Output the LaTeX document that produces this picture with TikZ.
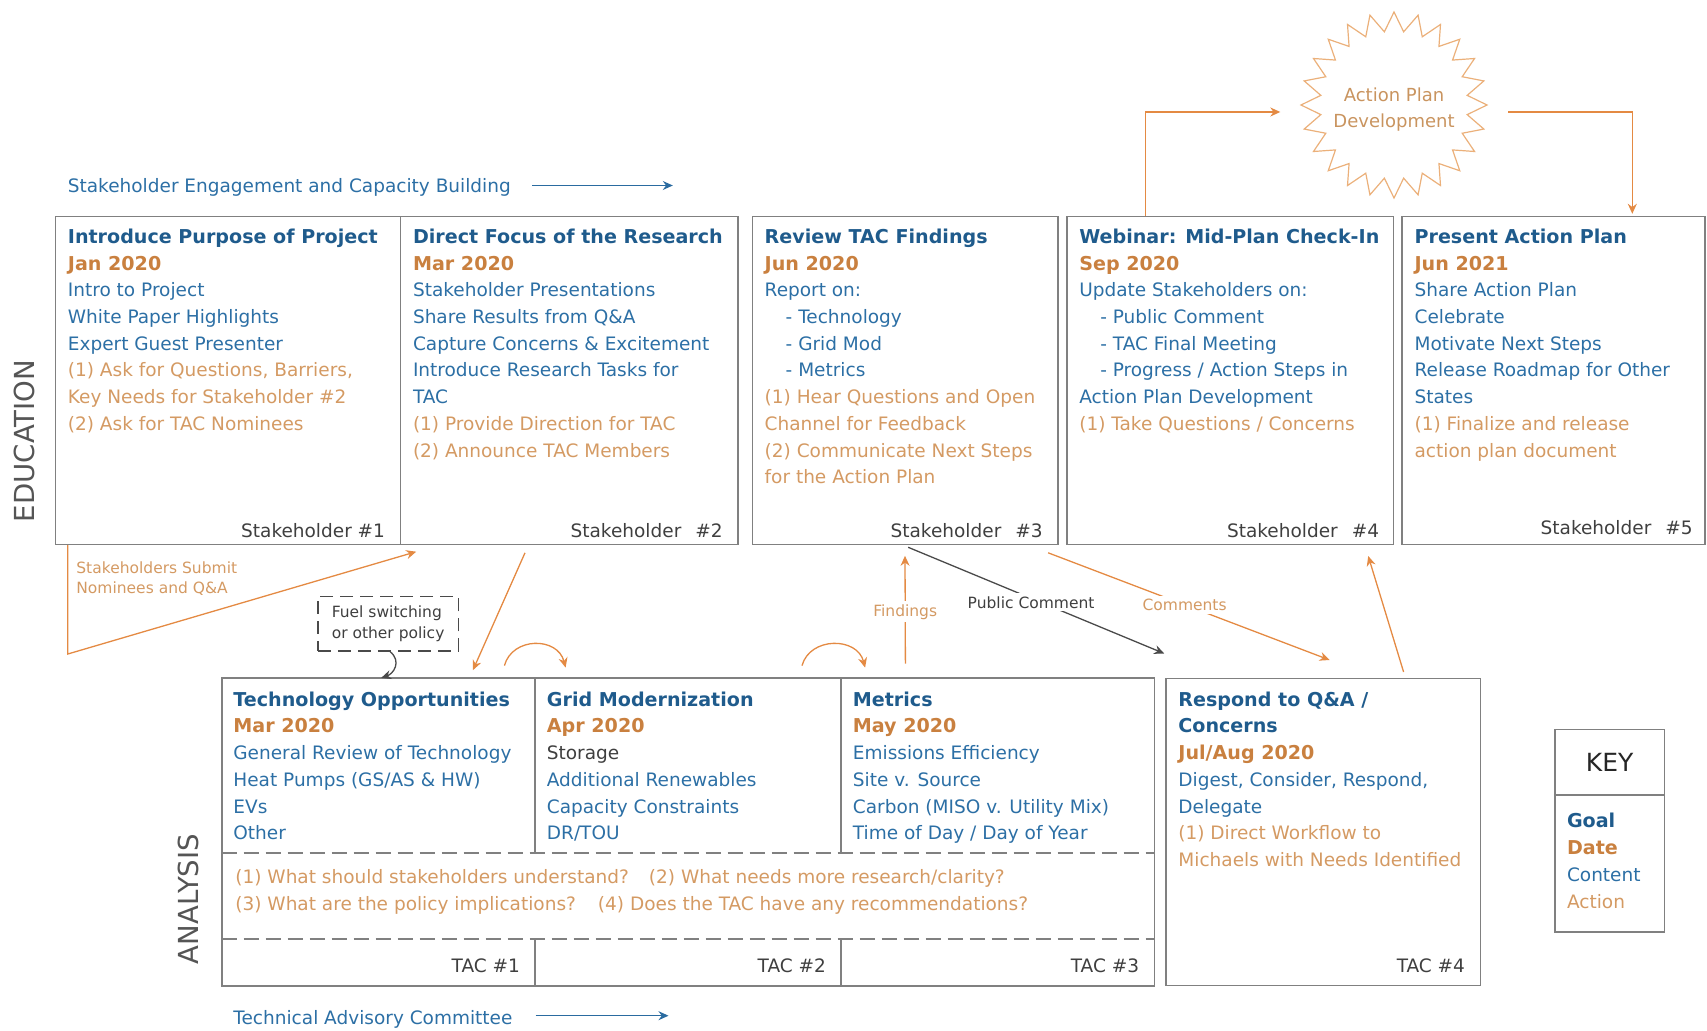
\documentclass[tikz,border=0pt]{standalone}
\usepackage{fontspec}
\setmainfont{DejaVu Sans}
\usetikzlibrary{shapes.geometric,arrows.meta,calc,fit}

\definecolor{goalc}{HTML}{1F5B8C}
\definecolor{contc}{HTML}{2C6FA5}
\definecolor{datec}{HTML}{C9803F}
\definecolor{actc}{HTML}{D49A63}
\definecolor{oarr}{HTML}{E48A43}
\definecolor{graytxt}{HTML}{3F3F3F}
\definecolor{borderc}{HTML}{808080}
\definecolor{labgray}{HTML}{555555}
\definecolor{starc}{HTML}{EBB07A}
\definecolor{startxt}{HTML}{C9945F}
\definecolor{barr}{HTML}{2A6BA0}
\definecolor{darr}{HTML}{4A4A4A}

\newcommand\tgoal[1]{{\color{goalc}\fontsize{9.55}{13.35}\selectfont\bfseries #1}}
\newcommand\tdate[1]{{\color{datec}\fontsize{9.55}{13.35}\selectfont\bfseries #1}}
\newcommand\tact[1]{{\color{actc}#1}}
\newcommand\tdark[1]{{\color{graytxt}#1}}
\newcommand\fstrut{\rule{0pt}{8pt}}
\newcommand\sstrut{\rule{0pt}{7pt}}
\newcommand\ind{\hspace*{10.5pt}}

\begin{document}
\begin{tikzpicture}[x=0.5pt,y=-0.5pt,
  box/.style={draw=borderc, line width=0.8pt, inner sep=0pt},
  ghost/.style={inner sep=0pt},
  boxline/.style={draw=borderc, line width=0.8pt},
  dashline/.style={draw=borderc, line width=0.8pt, dash pattern=on 7.5pt off 3.5pt},
  txt/.style={anchor=north west, inner sep=0pt, align=left, text=contc, font=\fontsize{9.25}{13.35}\selectfont},
  foot/.style={anchor=base east, inner sep=0pt, text=graytxt, font=\fontsize{9.25}{13.35}\selectfont},
  small/.style={font=\fontsize{7.75}{10.3}\selectfont},
  lbl/.style={small, fill=white, inner sep=1.5pt},
  oarrow/.style={draw=oarr, line width=0.65pt, -{Stealth[length=5pt,width=4.5pt]}},
  darrow/.style={draw=darr, line width=0.65pt, -{Stealth[length=5pt,width=4.5pt]}},
  barrow/.style={draw=barr, line width=0.65pt, -{Stealth[length=5pt,width=4.5pt]}},
  fuelbox/.style={draw=darr, line width=0.6pt, dash pattern=on 6.5pt off 3.5pt, minimum width=70.2pt, minimum height=27.2pt, inner sep=0pt, align=left, small, text=graytxt},
  biglabel/.style={rotate=90, inner sep=0pt, text=labgray, font=\fontsize{13.8}{16}\selectfont}
]
\useasboundingbox (0,0) rectangle (1707,1031);

% ---------- top row (stakeholder meetings)
\node[box, fit={(55.5,216.6) (400.6,544.4)}] (s1) {};
\node[box, fit={(400.6,216.6) (738.1,544.4)}] (s2) {};
\node[box, fit={(752.3,216.6) (1058.2,544.4)}] (s3) {};
\node[box, fit={(1066.9,216.6) (1393.5,544.4)}] (s4) {};
\node[box, fit={(1402.2,216.6) (1705,544.4)}] (s5) {};

\node[txt] (s1t) at (67.5,227.1) {\fstrut\tgoal{Introduce Purpose of Project}\\
\tdate{Jan 2020}\\
Intro to Project\\
White Paper Highlights\\
Expert Guest Presenter\\
\tact{(1) Ask for Questions, Barriers,}\\
\tact{Key Needs for Stakeholder \#2}\\
\tact{(2) Ask for TAC Nominees}};

\node[txt] (s2t) at (412.6,227.1) {\fstrut\tgoal{Direct Focus of the Research}\\
\tdate{Mar 2020}\\
Stakeholder Presentations\\
Share Results from Q\&A\\
Capture Concerns \& Excitement\\
Introduce Research Tasks for\\
TAC\\
\tact{(1) Provide Direction for TAC}\\
\tact{(2) Announce TAC Members}};

\node[txt] (s3t) at (764.3,227.1) {\fstrut\tgoal{Review TAC Findings}\\
\tdate{Jun 2020}\\
Report on:\\
\ind- Technology\\
\ind- Grid Mod\\
\ind- Metrics\\
\tact{(1) Hear Questions and Open}\\
\tact{Channel for Feedback}\\
\tact{(2) Communicate Next Steps}\\
\tact{for the Action Plan}};

\node[txt] (s4t) at (1078.9,227.1) {\fstrut\tgoal{Webinar: Mid-Plan Check-In}\\
\tdate{Sep 2020}\\
Update Stakeholders on:\\
\ind- Public Comment\\
\ind- TAC Final Meeting\\
\ind- Progress / Action Steps in\\
Action Plan Development\\
\tact{(1) Take Questions / Concerns}};

\node[txt] (s5t) at (1414.2,227.1) {\fstrut\tgoal{Present Action Plan}\\
\tdate{Jun 2021}\\
Share Action Plan\\
Celebrate\\
Motivate Next Steps\\
Release Roadmap for Other\\
States\\
\tact{(1) Finalize and release}\\
\tact{action plan document}};

\node[foot] (s1f) at (385.4,538) {Stakeholder \#1};
\node[foot] (s2f) at (723,538) {Stakeholder\hspace{7pt}\#2};
\node[foot] (s3f) at (1043,538) {Stakeholder\hspace{7pt}\#3};
\node[foot] (s4f) at (1379.4,538) {Stakeholder\hspace{7pt}\#4};
\node[foot] (s5f) at (1693,535) {Stakeholder\hspace{7pt}\#5};

% ---------- bottom row (TAC meetings)
\node[ghost, fit={(222.1,678.3) (534.6,985.3)}] (t1) {};
\node[ghost, fit={(534.6,678.3) (840.5,985.3)}] (t2) {};
\node[ghost, fit={(840.5,678.3) (1154,985.3)}] (t3) {};
\node[box, fit={(1166.1,678.3) (1480.6,985.3)}] (t4) {};
\node[ghost, fit={(222.1,853.5) (1154,938.5)}] (band) {};

\draw[boxline] (t1.north west) rectangle (t3.south east);
\draw[boxline] (t1.north east) -- (t1.north east |- band.north);
\draw[boxline] (t1.south east) -- (t1.south east |- band.south);
\draw[boxline] (t2.north east) -- (t2.north east |- band.north);
\draw[boxline] (t2.south east) -- (t2.south east |- band.south);
\draw[dashline] (band.north west) -- (band.north east);
\draw[dashline] (band.south west) -- (band.south east);

\node[txt] (t1t) at (233,689.8) {\fstrut\tgoal{Technology Opportunities}\\
\tdate{Mar 2020}\\
General Review of Technology\\
Heat Pumps (GS/AS \& HW)\\
EVs\\
Other};

\node[txt] (t2t) at (546.5,689.8) {\fstrut\tgoal{Grid Modernization}\\
\tdate{Apr 2020}\\
\tdark{Storage}\\
Additional Renewables\\
Capacity Constraints\\
DR/TOU};

\node[txt] (t3t) at (852.5,689.8) {\fstrut\tgoal{Metrics}\\
\tdate{May 2020}\\
Emissions Efficiency\\
Site v. Source\\
Carbon (MISO v. Utility Mix)\\
Time of Day / Day of Year};

\node[txt] (t4t) at (1178,689.8) {\fstrut\tgoal{Respond to Q\&A /}\\
\tgoal{Concerns}\\
\tdate{Jul/Aug 2020}\\
Digest, Consider, Respond,\\
Delegate\\
\tact{(1) Direct Workflow to}\\
\tact{Michaels with Needs Identified}};

\node[txt, text=actc] (bandt) at (235,867) {\fstrut(1) What should stakeholders understand?\hspace{10pt}(2) What needs more research/clarity?\\
(3) What are the policy implications?\hspace{11pt}(4) Does the TAC have any recommendations?};

\node[foot] (t1f) at (520.4,972.5) {TAC \#1};
\node[foot] (t2f) at (826.3,972.5) {TAC \#2};
\node[foot] (t3f) at (1139.5,972.5) {TAC \#3};
\node[foot] (t4f) at (1465.4,972.5) {TAC \#4};

% ---------- side labels and stream labels
\node[biglabel] (edu) at (24,441) {EDUCATION};
\node[biglabel] (ana) at (188,899) {ANALYSIS};

\node[anchor=base west, inner sep=0pt, text=contc, font=\fontsize{9.25}{13.35}\selectfont] (eng) at (67.5,193) {Stakeholder Engagement and Capacity Building};
\coordinate (ea1) at (532.4,185.5);
\coordinate (ea2) at (672.8,185.5);
\draw[barrow] (ea1) -- (ea2);

\node[anchor=base west, inner sep=0pt, text=contc, font=\fontsize{9.25}{13.35}\selectfont] (tacl) at (233,1024.5) {Technical Advisory Committee};
\coordinate (ta1) at (535.6,1015.7);
\coordinate (ta2) at (668.5,1015.7);
\draw[barrow] (ta1) -- (ta2);

% ---------- action plan star
\node[star, star points=24, star point ratio=1.26, draw=starc, line width=0.6pt, minimum size=93pt, inner sep=0pt] (star) at (1394,105) {};
\node[align=center, inner sep=0pt, text=startxt, font=\fontsize{9}{13}\selectfont] (startext) at ($(star.center)+(0,4.5)$) {Action Plan\\Development};

\draw[oarrow] ($(s4.north west)+(79.5,0)$) |- ($(star.center)+(-113.7,7)$);
\draw[oarrow] ($(star.center)+(114,7)$) -| ($(s5.north west)+(230.9,-2)$);

% ---------- key
\node[box, fit={(1554.7,729.4) (1664.6,931.9)}] (key) {};
\coordinate (kd) at (0,794.7);
\draw[boxline] (key.west |- kd) -- (key.east |- kd);
\node[inner sep=0pt, text=black!85, font=\fontsize{12.5}{15}\selectfont] (keyt) at (1609.6,762) {KEY};
\node[txt] (keyl) at (1566.6,811.5) {\fstrut\tgoal{Goal}\\
\tdate{Date}\\
Content\\
\tact{Action}};

% ---------- connectors
\node[anchor=north west, inner sep=0pt, align=left, text=actc, small] (subl) at (76,558.7) {\sstrut Stakeholders Submit\\Nominees and Q\&A};
\draw[oarrow] ($(s1.south west)+(13.1,0)$) -- ++(0,108.8) -- ($(s2.south west)+(16.4,6.5)$);

\draw[oarrow] ($(s2.south west)+(125.2,7.6)$) -- ($(t1.north east)+(-62.1,-7.7)$);

\node[fuelbox] (fuel) at (388.1,623.8) {Fuel switching\\or other policy};
\draw[darrow] ($(fuel.south)+(2,0)$) .. controls +(12,10) and +(12,-4) .. ($(t1.north west)+(159.5,0)$);

\draw[oarrow] ($(t1.north east)+(-30.6,-12.3)$) .. controls +(8,-29) and +(-8,-31) .. ($(t2.north west)+(31.4,-10.3)$);
\draw[oarrow] ($(t3.north west)+(-38.1,-12.3)$) .. controls +(8,-29) and +(-8,-31) .. ($(t3.north west)+(25,-10.3)$);

\draw[oarrow] ($(t3.north west)+(65.3,-14.3)$) -- node[lbl, text=actc, pos=0.48] (findl) {Findings} ($(s3.south west)+(153.5,10.6)$);
\draw[darrow] ($(s3.south west)+(156.7,2.1)$) -- node[lbl, text=graytxt, pos=0.48, yshift=-2pt] (pcl) {Public Comment} ($(t4.north west)+(-1.1,-24)$);
\draw[oarrow] ($(s3.south east)+(-10.9,7.6)$) -- node[lbl, text=actc, pos=0.485] (coml) {Comments} ($(t4.north west)+(164.3,-17.5)$);
\draw[oarrow] ($(t4.north west)+(238.3,-5.5)$) -- ($(s4.south east)+(-26.1,10.8)$);

\end{tikzpicture}
\end{document}
